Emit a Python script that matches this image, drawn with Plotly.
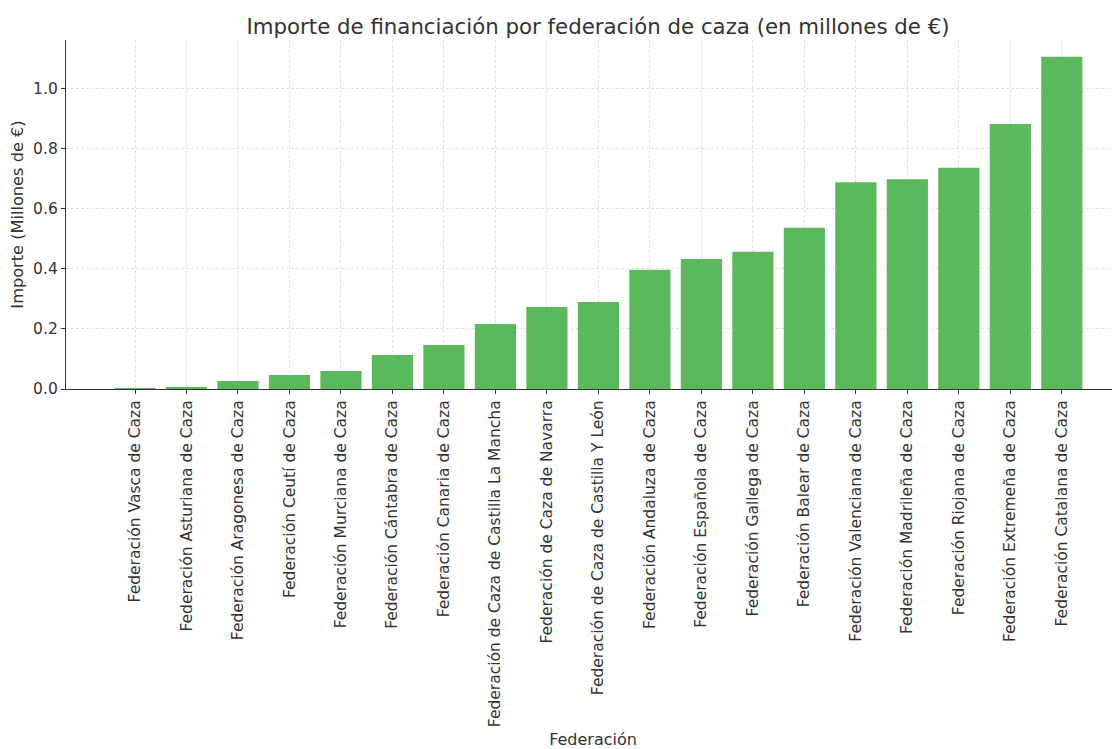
import plotly.graph_objects as go

federaciones = [
    "Federación Vasca de Caza",
    "Federación Asturiana de Caza",
    "Federación Aragonesa de Caza",
    "Federación Ceutí de Caza",
    "Federación Murciana de Caza",
    "Federación Cántabra de Caza",
    "Federación Canaria de Caza",
    "Federación de Caza de Castilla La Mancha",
    "Federación de Caza de Navarra",
    "Federación de Caza de Castilla Y León",
    "Federación Andaluza de Caza",
    "Federación Española de Caza",
    "Federación Gallega de Caza",
    "Federación Balear de Caza",
    "Federación Valenciana de Caza",
    "Federación Madrileña de Caza",
    "Federación Riojana de Caza",
    "Federación Extremeña de Caza",
    "Federación Catalana de Caza",
]
importes = [0.0005, 0.004, 0.027, 0.047, 0.060, 0.113, 0.147, 0.217, 0.273, 0.290,
            0.397, 0.433, 0.457, 0.537, 0.689, 0.699, 0.737, 0.883, 1.107]

font_family = "DejaVu Sans, Verdana, sans-serif"

fig = go.Figure(go.Bar(
    x=federaciones,
    y=importes,
    marker=dict(color="#5cb85c", line=dict(width=0)),
    width=0.8,
))

# the page adds an 8px body margin, so the figure is sized to fit inside the window
fig.update_layout(
    width=1112, height=741,
    paper_bgcolor="white", plot_bgcolor="white",
    margin=dict(l=58, r=0, t=32, b=360, autoexpand=False),
    font=dict(family=font_family, size=15, color="#333333"),
    title=dict(text="Importe de financiación por federación de caza (en millones de €)",
               x=0.5306, xanchor="center", y=0.985, yanchor="top",
               font=dict(size=21.3, color="#333333")),
    showlegend=False,
    bargap=0.2,
)

fig.update_xaxes(
    type="category",
    range=[-1.34, 19.13],
    tickangle=-90,
    automargin=False,
    ticks="outside", ticklen=4, tickcolor="#333333",
    showline=True, linecolor="#333333", linewidth=1.3,
    showgrid=True, gridcolor="#e2e2e2", griddash="3px,2px", gridwidth=0.8,
    title=dict(text="Federación", font=dict(size=16), standoff=15),
    tickfont=dict(size=15.5),
)
fig.update_yaxes(
    range=[0, 1.163],
    tickvals=[0, 0.2, 0.4, 0.6, 0.8, 1.0],
    tickformat=".1f",
    automargin=False,
    ticks="outside", ticklen=4, tickcolor="#333333",
    showline=True, linecolor="#333333", linewidth=1.3,
    showgrid=True, gridcolor="#e2e2e2", griddash="3px,2px", gridwidth=0.8,
    zeroline=False,
    title=dict(text="Importe (Millones de €)", font=dict(size=16.2), standoff=8),
    tickfont=dict(size=15.5),
)

fig.write_html("out.html")
